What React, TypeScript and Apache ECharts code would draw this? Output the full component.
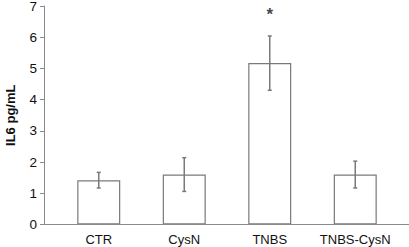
import React, { useEffect, useRef } from "react";
import * as echarts from "echarts";

const categories = ["CTR", "CysN", "TNBS", "TNBS-CysN"];
const means = [1.42, 1.6, 5.17, 1.6];
const errors = [0.25, 0.54, 0.87, 0.43];
const yTicks = [0, 1, 2, 3, 4, 5, 6, 7];
const significance = ["", "", "*", ""];

export default function App() {
  const ref = useRef<HTMLDivElement>(null);
  useEffect(() => {
    const chart = echarts.init(ref.current!, null, { renderer: "svg" });
    const axisColor = "#8a8a8a";
    const font = "Liberation Sans, Arial, sans-serif";
    const errData = means.map((m, i) => [i, m - errors[i], m + errors[i]]);
    chart.setOption({
      animation: false,
      backgroundColor: "#ffffff",
      grid: {
        left: 56,
        right: 11,
        top: 6,
        bottom: 22.5,
        containLabel: false,
        outerBoundsMode: "none",
      },
      xAxis: {
        type: "category",
        data: categories,
        axisLine: { show: false },
        axisTick: { show: false },
        axisLabel: {
          interval: 0,
          color: "#111",
          fontFamily: font,
          fontSize: 13,
          margin: 8,
        },
      },
      yAxis: {
        type: "value",
        min: yTicks[0],
        max: yTicks[yTicks.length - 1],
        interval: 1,
        offset: 12,
        name: "IL6 pg/mL",
        nameLocation: "middle",
        nameGap: 27,
        nameTextStyle: {
          color: "#111",
          fontFamily: font,
          fontSize: 13,
          fontWeight: "bold",
        },
        axisLine: { show: true, lineStyle: { color: axisColor, width: 1 } },
        axisTick: { show: true, inside: false, length: 4, lineStyle: { color: axisColor } },
        splitLine: { show: false },
        axisLabel: {
          color: "#111",
          fontFamily: font,
          fontSize: 13.5,
          margin: 7,
        },
      },
      series: [
        {
          type: "bar",
          data: means,
          barWidth: 43,
          itemStyle: { color: "#ffffff", borderColor: "#7a7a7a", borderWidth: 1.2 },
          z: 2,
        },
        {
          type: "custom",
          data: errData,
          z: 3,
          renderItem: (params: any, api: any) => {
            const x = api.value(0);
            const lo = api.coord([x, api.value(1)]);
            const hi = api.coord([x, api.value(2)]);
            const cap = 2;
            const style = { stroke: "#7a7a7a", lineWidth: 1.5 };
            return {
              type: "group",
              children: [
                { type: "line", shape: { x1: lo[0], y1: lo[1], x2: hi[0], y2: hi[1] }, style },
                { type: "line", shape: { x1: lo[0] - cap, y1: lo[1], x2: lo[0] + cap, y2: lo[1] }, style },
                { type: "line", shape: { x1: hi[0] - cap, y1: hi[1], x2: hi[0] + cap, y2: hi[1] }, style },
              ],
            };
          },
        },
        {
          type: "scatter",
          data: means.map((m, i) => [i, m + errors[i]]),
          symbolSize: 0,
          label: {
            show: true,
            position: "top",
            distance: 13,
            formatter: (p: any) => significance[p.dataIndex],
            color: "#111",
            fontSize: 17,
            fontWeight: "bold",
            fontFamily: font,
          },
        },
      ],
      graphic: [
        {
          type: "line",
          shape: { x1: 40, y1: 224.5, x2: 409, y2: 224.5 },
          style: { stroke: axisColor, lineWidth: 1 },
          z: 10,
        },
      ],
    });
    return () => chart.dispose();
  }, []);
  return (
    <div
      ref={ref}
      style={{ position: "fixed", left: 0, top: 0, width: 409, height: 247 }}
    />
  );
}
